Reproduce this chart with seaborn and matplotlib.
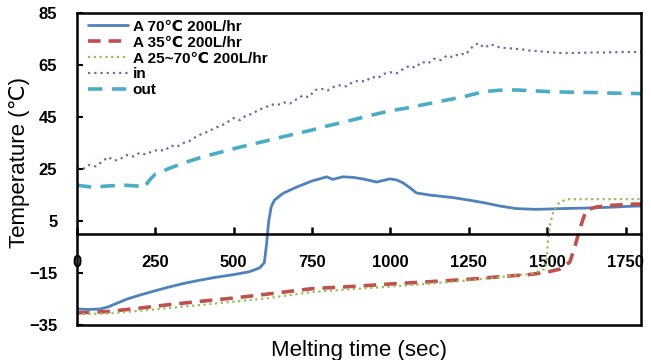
import numpy as np
import pandas as pd
import seaborn as sns
import matplotlib
matplotlib.use("Agg")
import matplotlib.pyplot as plt

# A 70℃ 200L/hr
t_a70 = [0, 40, 75, 100, 130, 160, 200, 250, 290, 340, 390, 440, 500, 550, 583, 598,
         605, 612, 620, 630, 645, 660, 700, 750, 797, 816, 848, 880, 912, 956, 998,
         1020, 1040, 1060, 1083, 1125, 1200, 1253, 1300, 1348, 1400, 1460, 1500, 1550,
         1625, 1700, 1750, 1800]
v_a70 = [-28.8, -29.0, -28.8, -28.0, -26.5, -25.0, -23.5, -21.8, -20.5, -19.0, -17.8,
         -16.7, -15.6, -14.5, -13.0, -11.0, -4.0, 5.0, 10.5, 13.0, 14.5, 15.8, 18.0,
         20.4, 22.0, 21.0, 22.0, 21.8, 21.2, 20.0, 21.2, 20.8, 19.7, 18.0, 15.8, 15.0,
         14.0, 13.0, 12.0, 10.8, 9.8, 9.5, 9.6, 9.8, 10.0, 10.3, 10.6, 10.8]

# A 35℃ 200L/hr
t_a35 = [0, 100, 200, 290, 400, 500, 600, 750, 900, 1000, 1100, 1250, 1350, 1450, 1500,
         1540, 1572, 1588, 1603, 1615, 1625, 1657, 1700, 1773, 1800]
v_a35 = [-30.3, -29.8, -28.5, -27.2, -25.8, -24.6, -23.2, -21.0, -20.0, -19.2, -18.5,
         -17.4, -16.4, -15.5, -14.6, -13.5, -10.8, -5.0, 1.5, 6.0, 9.2, 10.4, 11.0,
         11.5, 11.5]

# A 25~70℃ 200L/hr
t_a25 = [0, 100, 200, 290, 400, 500, 600, 750, 900, 1000, 1100, 1250, 1350, 1450, 1490,
         1498, 1503, 1510, 1520, 1540, 1565, 1650, 1800]
v_a25 = [-30.8, -30.5, -29.5, -28.5, -27.2, -26.0, -24.8, -22.3, -21.0, -20.2, -19.3,
         -17.8, -16.5, -15.3, -13.5, -11.0, -2.0, 4.0, 9.0, 12.3, 13.4, 13.4, 13.4]

# in
t_in = list(range(0, 1801, 20))
v_in = [25.4, 25.0, 26.6, 26.0, 27.8, 29.6, 28.2, 29.0, 30.4, 29.8,
        31.2, 30.6, 31.8, 32.4, 32.0, 34.0, 33.6, 35.0, 35.8, 37.4,
        38.6, 39.4, 40.8, 41.6, 43.0, 44.6, 43.8, 45.6, 46.2, 47.8,
        48.6, 49.8, 49.6, 50.6, 50.2, 51.8, 53.2, 52.6, 55.4, 55.8,
        55.2, 56.6, 57.2, 56.8, 58.4, 59.0, 58.6, 60.4, 60.0, 61.6,
        62.2, 61.8, 63.4, 64.6, 64.0, 66.2, 65.6, 67.4, 66.8, 68.6,
        68.0, 69.4, 69.0, 71.8, 73.4, 71.6, 73.0, 72.0, 71.6, 71.4,
        71.2, 71.0, 70.6, 70.4, 70.2, 70.0, 69.8, 69.6, 69.6, 69.6,
        69.7, 69.7, 69.8, 69.8, 69.8, 69.9, 69.9, 70.0, 70.0, 70.0,
        70.0]

# out
t_out = [0, 50, 100, 150, 200, 215, 230, 250, 300, 350, 400, 450, 500, 550, 600, 650,
         700, 750, 800, 850, 900, 950, 1000, 1050, 1100, 1150, 1200, 1250, 1300, 1350,
         1400, 1450, 1500, 1550, 1600, 1650, 1700, 1750, 1800]
v_out = [18.8, 18.0, 18.5, 18.8, 18.4, 17.8, 20.5, 23.0, 25.5, 27.7, 29.6, 31.2, 32.8,
         34.3, 35.7, 37.2, 38.6, 40.0, 41.6, 43.0, 44.5, 46.0, 47.4, 48.4, 49.6, 50.8,
         52.0, 53.3, 54.8, 55.3, 55.4, 55.1, 54.8, 54.6, 54.5, 54.4, 54.2, 54.1, 54.0]

x_ticks = [0, 250, 500, 750, 1000, 1250, 1500, 1750]
y_ticks = [-35, -15, 5, 25, 45, 65, 85]

sns.set_style("white")
plt.rcParams['font.family'] = ['Liberation Sans', 'DejaVu Sans']
plt.rcParams['text.color'] = 'black'
plt.rcParams['axes.labelcolor'] = 'black'
plt.rcParams['xtick.color'] = 'black'
plt.rcParams['ytick.color'] = 'black'

fig = plt.figure(figsize=(6.51, 3.6), dpi=100)
ax = fig.add_axes([0.118, 0.097, 0.867, 0.867])

# Draw series
sns.lineplot(x=t_a70, y=v_a70, ax=ax, color='#4f81bd', lw=2.0, label='A 70℃ 200L/hr')
sns.lineplot(x=t_a35, y=v_a35, ax=ax, color='#c0504d', lw=2.6,
             linestyle=(0, (3.5, 2.2)), label='A 35℃ 200L/hr')
sns.lineplot(x=t_a25, y=v_a25, ax=ax, color='#9bbb59', lw=1.6,
             linestyle=(0, (1, 1.6)), label='A 25~70℃ 200L/hr')
sns.lineplot(x=t_in, y=v_in, ax=ax, color='#8064a2', lw=1.6,
             linestyle=(0, (1, 1.8)), label='in')
sns.lineplot(x=t_out, y=v_out, ax=ax, color='#4bacc6', lw=2.6,
             linestyle=(0, (4, 2.6)), label='out')

ax.set(xlim=(0, 1800), ylim=(-35, 85))
ax.set_xticks(x_ticks)
ax.set_yticks(y_ticks)

# Frame: x axis at zero, box around
for s in ['left', 'right', 'top', 'bottom']:
    ax.spines[s].set_color('black')
    ax.spines[s].set_linewidth(1.8)
ax.spines['bottom'].set_position(('data', 0))
ax.axhline(-35, color='black', lw=1.8, clip_on=False, zorder=5)

ax.tick_params(axis='x', direction='in', length=5, width=1.8, pad=15,
               labelsize=12, bottom=True, top=False, colors='black')
ax.tick_params(axis='y', direction='in', length=4, width=1.5, pad=14,
               labelsize=12, left=True, right=False, colors='black')
for lbl in ax.get_xticklabels() + ax.get_yticklabels():
    lbl.set_fontweight('bold')

ax.set_xlabel('Melting time (sec)', fontsize=16, color='black')
ax.xaxis.set_label_coords(0.5, -0.048)
ax.set_ylabel('Temperature (℃)', fontsize=16, color='black')
ax.yaxis.set_label_coords(-0.083, 0.52)

leg = ax.legend(loc='upper left', bbox_to_anchor=(0.008, 1.0), frameon=False,
                prop={'size': 11, 'weight': 'bold'}, handlelength=2.6, handletextpad=0.3,
                labelspacing=0.12, borderpad=0.2, borderaxespad=0.25)
for txt in leg.get_texts():
    txt.set_color('black')

plt.savefig('out.png', dpi=100)
plt.close(fig)
